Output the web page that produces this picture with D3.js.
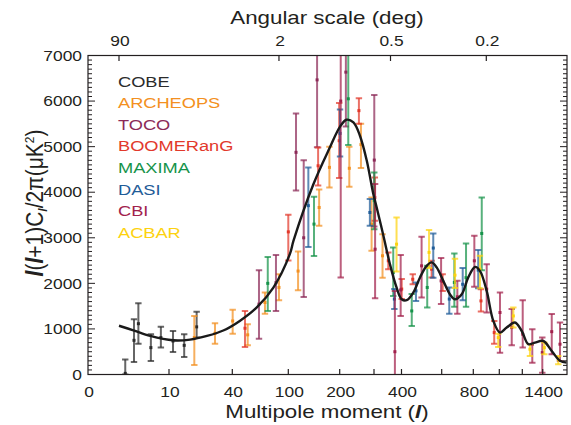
<!DOCTYPE html>
<html><head><meta charset="utf-8">
<script src="https://cdn.jsdelivr.net/npm/d3@7"></script>
<style>
body{margin:0;background:#fff;}
svg{display:block;}
text{font-family:"Liberation Sans",Arial,Helvetica,sans-serif;fill:#231f20;}
</style>
</head><body>
<svg id="chart" width="571" height="425"></svg>
<script>
// ---------------- data ----------------
const experiments = ["COBE","ARCHEOPS","TOCO","BOOMERanG","MAXIMA","DASI","CBI","ACBAR"];
const expColors = ["#2b2b2b","#f39021","#8c2a58","#e2392b","#16934a","#1f5c98","#a2214c","#fdd20f"];

// [multipole l, l(l+1)Cl/2pi, low, high]
const cobe = [[3,25,0,330],[4.4,750,275,1215],[5.1,1115,675,1565],[7.1,590,295,885],[8.7,810,590,1050],[11.9,735,495,955],[17.2,640,385,885],[23.1,1045,810,1375]];
const archeops = [[22,810,210,1285],[31.8,905,675,1125],[40.4,1175,895,1420],[56.5,870,640,1105],[75,1580,1335,1800],[90,1910,1630,2200],[119,2270,1850,2700],[160,3665,3265,4060],[180,4545,4105,5000],[228,4525,4120,5000],[262,5045,4530,5500],[293,3300,2715,3885],[331,2605,2125,3080]];
const toco = [[68.6,1545,785,2290],[86.8,2015,1395,2620],[115,4875,4035,5730],[130,3000,1700,4700],[156,6465,4985,7950],[218,6635,5440,7800],[301,4705,3250,6135]];
const boomerang = [[53.6,1015,605,1395],[100,3130,2500,3505],[158,4580,4145,4980],[199,5130,4310,5960],[256,5790,5500,6060],[303,3885,3375,4325],[352,2495,2310,2675],[401,1875,1655,2095],[456,2090,1980,2200],[550,2310,2130,2495],[606,2040,1835,2200],[859,1615,1380,1870],[961,920,675,1175]];
const maxima = [[78,2000,1395,2580],[150,3300,2600,3900],[225,6050,5035,7500],[301,3815,3190,4435],[370,2240,1725,2785],[451,1395,1065,1765],[528,1910,1470,2385],[680,2020,1485,2655],[754,2125,1485,2875],[865,3095,2290,3885]];
const dasi = [[139,3705,2800,4545],[201,5290,4785,5815],[288,3555,3265,3850],[374,1655,1435,1875],[472,1835,1615,2020],[558,2775,2125,3095],[648,1655,1335,1910],[733,1980,1630,2335],[838,2290,1895,2730]];
const cbi = [[203,6000,2130,9000],[304,2750,1675,4180],[376,500,-800,1835],[397,1855,1285,2625],[500,2385,1690,3020],[597,2055,1545,2555],[699,1705,1335,2055],[808,2495,1925,3045],[903,1875,1360,2420],[1006,1360,480,1800],[1108,1030,640,1435],[1204,885,590,1630],[1298,665,260,995],[1396,480,40,810],[1493,940,445,1325],[1578,665,295,1140]];
const acbar = [[382,2860,2260,3445],[537,2680,2335,3170],[684,2180,1900,2540],[851,2310,1895,2605],[992,810,605,895],[1122,1285,1030,1470],[1275,555,405,665],[1416,590,445,700],[1560,335,225,405]];
const expData = [cobe, archeops, toco, boomerang, maxima, dasi, cbi, acbar];

// theory curve
const theoryL = [2,4.3,7,12,20,28,36,48,66,84,103,110,149,181,201,220,240,259,279,298,310,334,358,382,401,426,459,492,525,550,575,610,652,684,727,768,813,851,903,954,1006,1064,1136,1195,1259,1324,1406,1493,1578,1645];
const theoryD = [1070,970,846,750,765,846,971,1176,1468,1908,2640,2930,4180,4985,5440,5590,5530,5240,4690,3960,3660,3050,2420,1910,1650,1630,1800,2130,2385,2460,2350,2055,1760,1650,1760,2130,2360,2275,1835,1175,920,1030,1140,955,665,700,735,515,300,260];

// ticks
const yTicks = [0,1000,2000,3000,4000,5000,6000,7000];
const xTickLabels = [0,10,40,100,200,400,800,1400];
const xTickMarks = [10,40,100,200,300,400,600,800,1000,1200,1400];
const angTicks = [90,2,0.5,0.2];

// ---------------- layout ----------------
const L = 88, R = 567, T = 55.5, B = 374.5;
const SX = 1.2; // horizontal text stretch of the original
const svg = d3.select("#chart");

// non-uniform multipole axis (piecewise)
const x = d3.scaleLinear()
  .domain([0,2,10,40,100,200,300,400,600,800,1000,1200,1400,1650])
  .range([88,119,169,232.3,288.3,339.7,374,401.5,441.7,473.3,499.3,522.3,542.7,567]);
const y = d3.scaleLinear().domain([0,7000]).range([B,T]);

svg.append("clipPath").attr("id","clip").append("rect")
  .attr("x",L).attr("y",T).attr("width",R-L).attr("height",B-T);

function label(px, py, str, size, anchor){
  return svg.append("text")
    .attr("transform",`translate(${px},${py}) scale(${SX},1)`)
    .attr("font-size",size).attr("text-anchor",anchor||"middle").text(str);
}

// data error bars
const plot = svg.append("g").attr("clip-path","url(#clip)");
expData.forEach((arr,i)=>{
  const c = expColors[i];
  const g = plot.append("g");
  const pts = g.selectAll("g").data(arr).join("g");
  pts.append("line").attr("x1",d=>x(d[0])).attr("x2",d=>x(d[0]))
    .attr("y1",d=>y(d[2])).attr("y2",d=>y(d[3]))
    .attr("stroke",c).attr("stroke-width",2).attr("stroke-opacity",0.72);
  [2,3].forEach(k=>{
    pts.append("line").attr("x1",d=>x(d[0])-3.2).attr("x2",d=>x(d[0])+3.2)
      .attr("y1",d=>y(d[k])).attr("y2",d=>y(d[k]))
      .attr("stroke",c).attr("stroke-width",2).attr("stroke-opacity",0.72);
  });
  pts.append("rect").attr("x",d=>x(d[0])-1.5).attr("y",d=>y(d[1])-1.5)
    .attr("width",3).attr("height",3).attr("fill",c);
});

// theory curve
const curve = d3.line().x(d=>x(d[0])).y(d=>y(d[1])).curve(d3.curveCatmullRom.alpha(0.5));
plot.append("path").datum(theoryL.map((l,i)=>[l,theoryD[i]]))
  .attr("d",curve).attr("fill","none").attr("stroke","#1a1a1a").attr("stroke-width",2.4);

// frame
svg.append("rect").attr("x",L).attr("y",T).attr("width",R-L).attr("height",B-T)
  .attr("fill","none").attr("stroke","#231f20").attr("stroke-width",1.2);

// y ticks (minor every 100, both sides)
const yMinor = d3.range(0,7001,100);
svg.append("g").selectAll("line").data(yMinor).join("line")
  .attr("x1",L).attr("x2",d=>L+(d%1000===0?7:4))
  .attr("y1",d=>y(d)).attr("y2",d=>y(d)).attr("stroke","#231f20").attr("stroke-width",1);
svg.append("g").selectAll("line").data(yMinor).join("line")
  .attr("x1",R).attr("x2",d=>R-(d%1000===0?7:4))
  .attr("y1",d=>y(d)).attr("y2",d=>y(d)).attr("stroke","#231f20").attr("stroke-width",1);
yTicks.forEach(v=>label(82, y(v)+5.2, String(v), 14.5, "end"));

// bottom ticks
svg.append("g").selectAll("line").data(xTickMarks).join("line")
  .attr("x1",d=>x(d)).attr("x2",d=>x(d)).attr("y1",B).attr("y2",B-5.5)
  .attr("stroke","#231f20").attr("stroke-width",1.2);
xTickLabels.forEach(v=>label(x(v)+1, 397, String(v), 14.5));

// top angular ticks  (l = 180 / theta)
svg.append("g").selectAll("line").data(angTicks).join("line")
  .attr("x1",d=>x(180/d)).attr("x2",d=>x(180/d)).attr("y1",T).attr("y2",T+5.5)
  .attr("stroke","#231f20").attr("stroke-width",1.2);
angTicks.forEach(v=>label(x(180/v)+1, 45.5, String(v), 14.5));

// titles
label(327, 24, "Angular scale (deg)", 18.6);
const xt = label(327, 418, "", 18.6);
xt.append("tspan").text("Multipole moment (");
xt.append("tspan").attr("font-style","italic").attr("font-weight","bold").text("l");
xt.append("tspan").text(")");

const yt = svg.append("text")
  .attr("transform",`translate(43,203) scale(1.1,1) rotate(-90)`)
  .attr("font-size",21).attr("text-anchor","middle");
yt.append("tspan").attr("font-style","italic").attr("font-weight","bold").text("l");
yt.append("tspan").text("(");
yt.append("tspan").attr("font-style","italic").attr("font-weight","bold").text("l");
yt.append("tspan").text("+1)C");
yt.append("tspan").attr("font-size",12).attr("dy",4).attr("font-style","italic").attr("font-weight","bold").text("l");
yt.append("tspan").attr("dy",-4).text("/2π(μK");
yt.append("tspan").attr("font-size",12).attr("dy",-8).text("2");
yt.append("tspan").attr("dy",8).text(")");

// legend
experiments.forEach((name,i)=>{
  label(118, 86.5 + i*21.6, name, 15.2, "start").style("fill", expColors[i]);
});
</script>
</body></html>
